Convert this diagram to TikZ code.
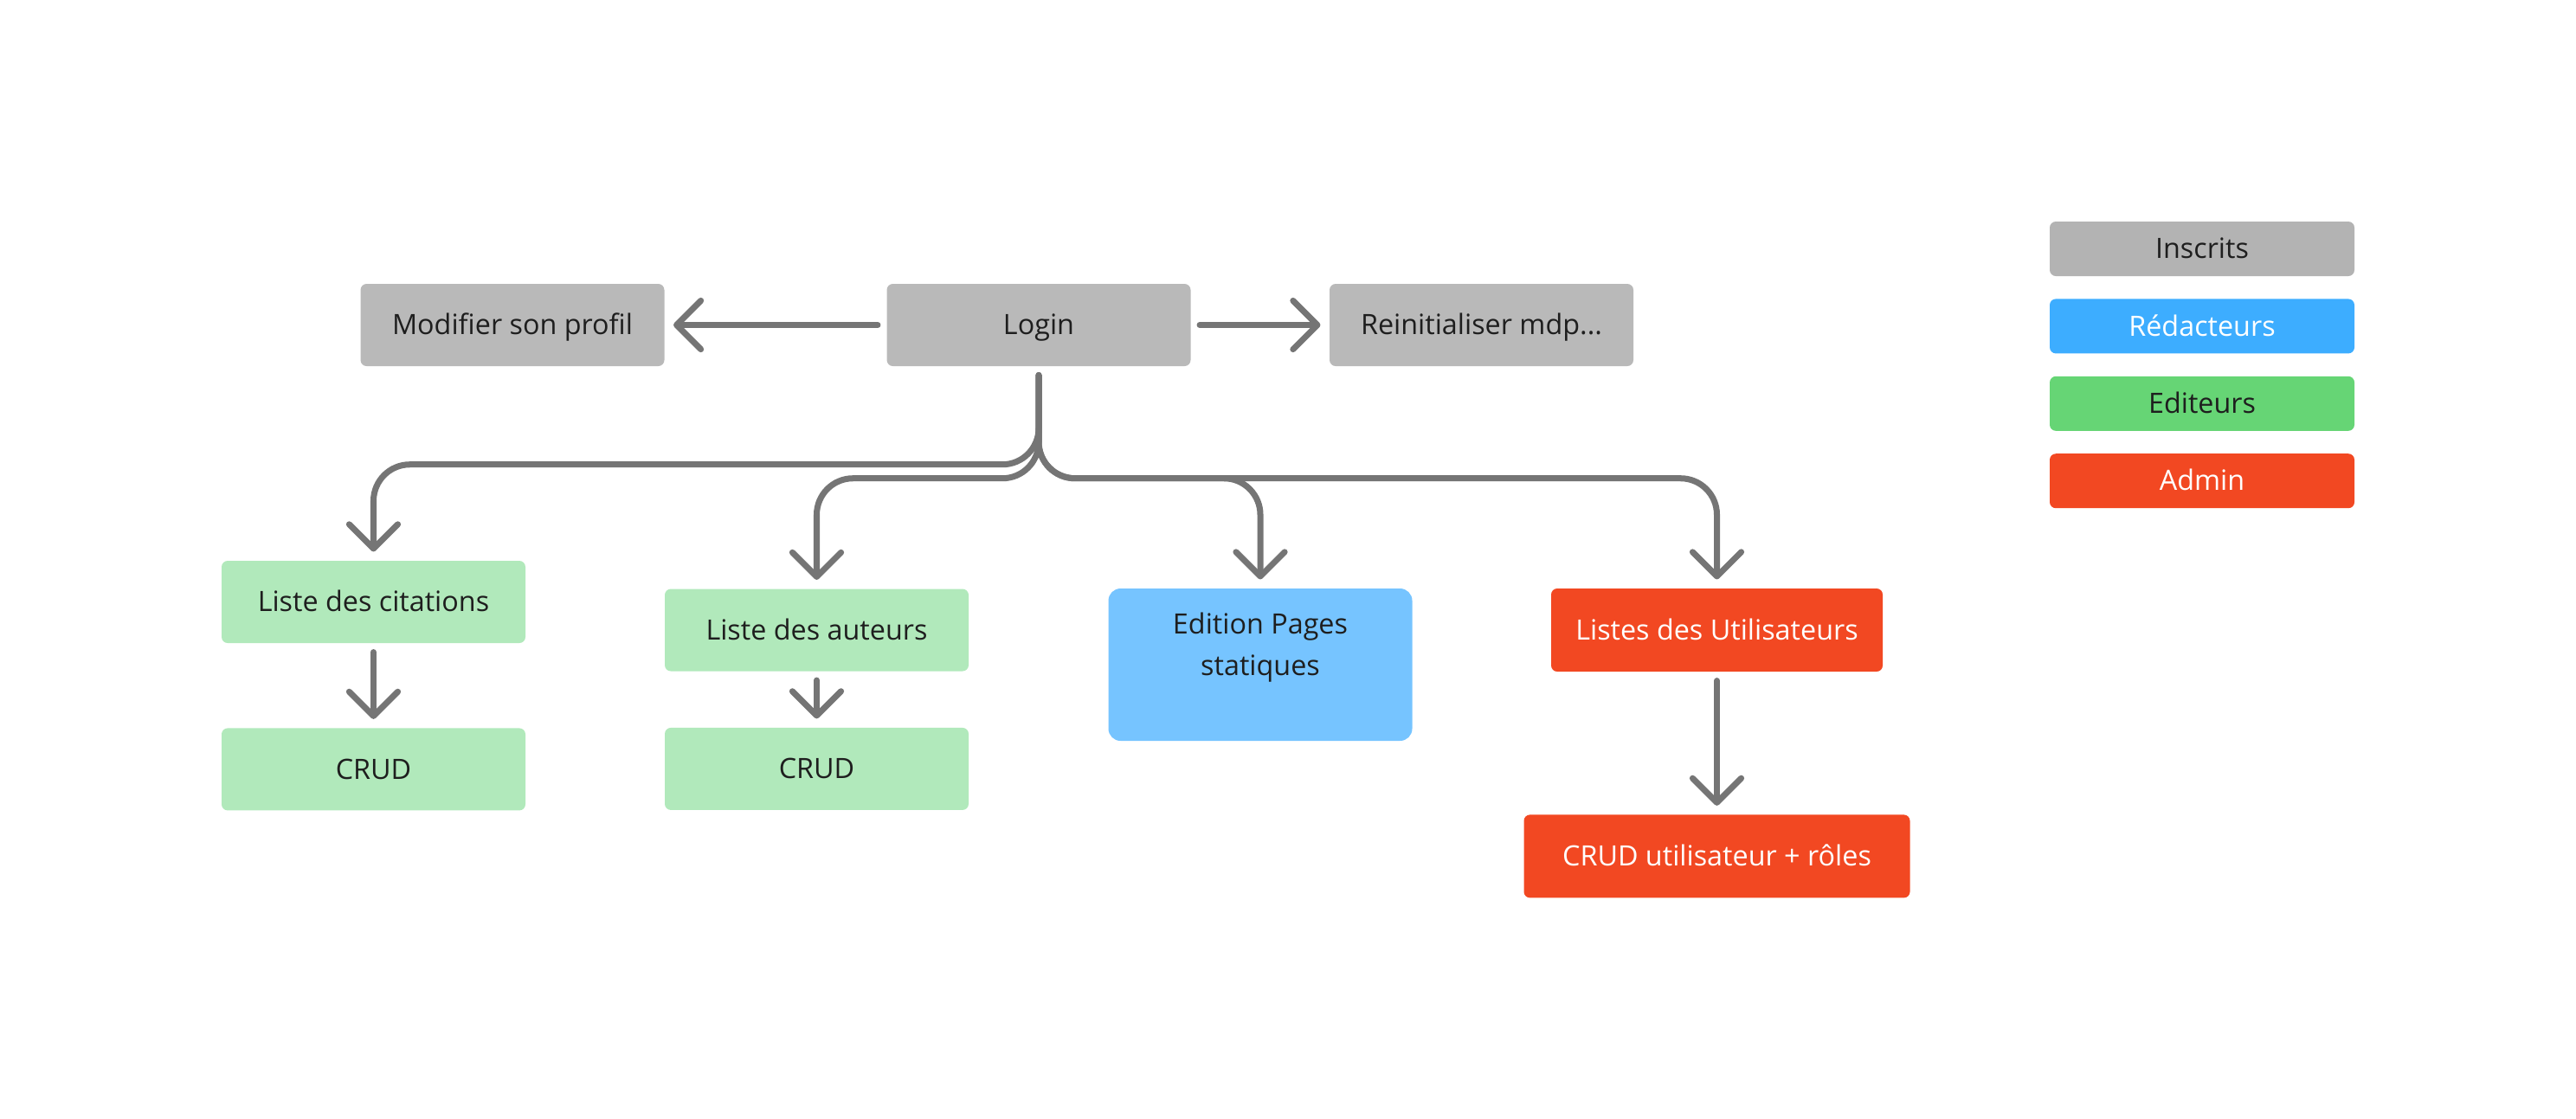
\documentclass[tikz,border=0pt]{standalone}
\usepackage{fontspec}
\setmainfont{Open Sans}
\usetikzlibrary{arrows.meta,positioning}
\definecolor{roleGray}{RGB}{185,185,185}
\definecolor{legendGray}{RGB}{179,179,179}
\definecolor{editGreen}{RGB}{177,233,187}
\definecolor{legendGreen}{RGB}{102,213,117}
\definecolor{redacBlue}{RGB}{118,196,255}
\definecolor{legendBlue}{RGB}{61,173,255}
\definecolor{adminRed}{RGB}{242,72,34}
\definecolor{linkGray}{RGB}{117,117,117}
\definecolor{inkDark}{RGB}{30,30,30}
\tikzset{
  cell/.style={rounded corners=2pt, fill=roleGray, text=inkDark, align=center,
               minimum width=3.51cm, minimum height=0.95cm, inner sep=0pt,
               font=\fontsize{9.2}{13.6}\selectfont},
  box/.style={cell, text height=6.4pt, text depth=0pt},
  greenbox/.style={box, fill=editGreen},
  bluebox/.style={cell, fill=redacBlue, rounded corners=4pt},
  redbox/.style={box, fill=adminRed, text=white},
  legendbox/.style={box, minimum width=3.52cm, minimum height=0.63cm},
  arrow/.style={-{Straight Barb[length=8pt, width=16pt, round]}, line width=2pt,
                draw=linkGray, line cap=round, shorten <=2.8pt, shorten >=2.8pt},
  branch/.style={arrow, rounded corners=0.42cm}
}
\begin{document}
\begin{tikzpicture}
\useasboundingbox (0,0) rectangle (29.76,-12.92);
% ligne du haut
\node[box] (login) at (12.0,-3.755) {Login};
\node[box] (profil) at (5.92,-3.755) {Modifier son profil};
\node[box] (reset) at (17.115,-3.755) {Reinitialiser mdp...};
% editeurs
\node[greenbox] (citations) at (4.315,-6.955) {Liste des citations};
\node[greenbox, below=0.97cm of citations] (crudcit) {CRUD};
\node[greenbox] (auteurs) at (9.435,-7.28) {Liste des auteurs};
\node[greenbox, below=0.64cm of auteurs] (crudaut) {CRUD};
% redacteurs
\node[bluebox, minimum height=1.76cm] (pages) at (14.56,-7.68) {Edition Pages\\statiques\\\mbox{}};
% admin
\node[redbox, minimum width=3.83cm, minimum height=0.96cm] (users) at (19.835,-7.28) {Listes des Utilisateurs};
\node[redbox, minimum width=4.46cm, minimum height=0.96cm, below=1.64cm of users] (crudusers) {CRUD utilisateur + rôles};
% legende
\node[legendbox, fill=legendGray] (inscrits) at (25.44,-2.875) {Inscrits};
\node[legendbox, fill=legendBlue, text=white, below=0.25cm of inscrits] (redacteurs) {Rédacteurs};
\node[legendbox, fill=legendGreen, below=0.25cm of redacteurs] (editeurs) {Editeurs};
\node[legendbox, fill=adminRed, text=white, below=0.25cm of editeurs] (admin) {Admin};
% fleches
\draw[arrow] (login) -- (profil);
\draw[arrow] (login) -- (reset);
\draw[branch] (login.south) -- ++(0,-1.13) -| (citations.north);
\draw[branch] (login.south) -- ++(0,-1.29) -| (auteurs.north);
\draw[branch] (login.south) -- ++(0,-1.29) -| (pages.north);
\draw[branch] (login.south) -- ++(0,-1.29) -| (users.north);
\draw[arrow] (citations) -- (crudcit);
\draw[arrow] (auteurs) -- (crudaut);
\draw[arrow] (users) -- (crudusers);
\end{tikzpicture}
\end{document}
